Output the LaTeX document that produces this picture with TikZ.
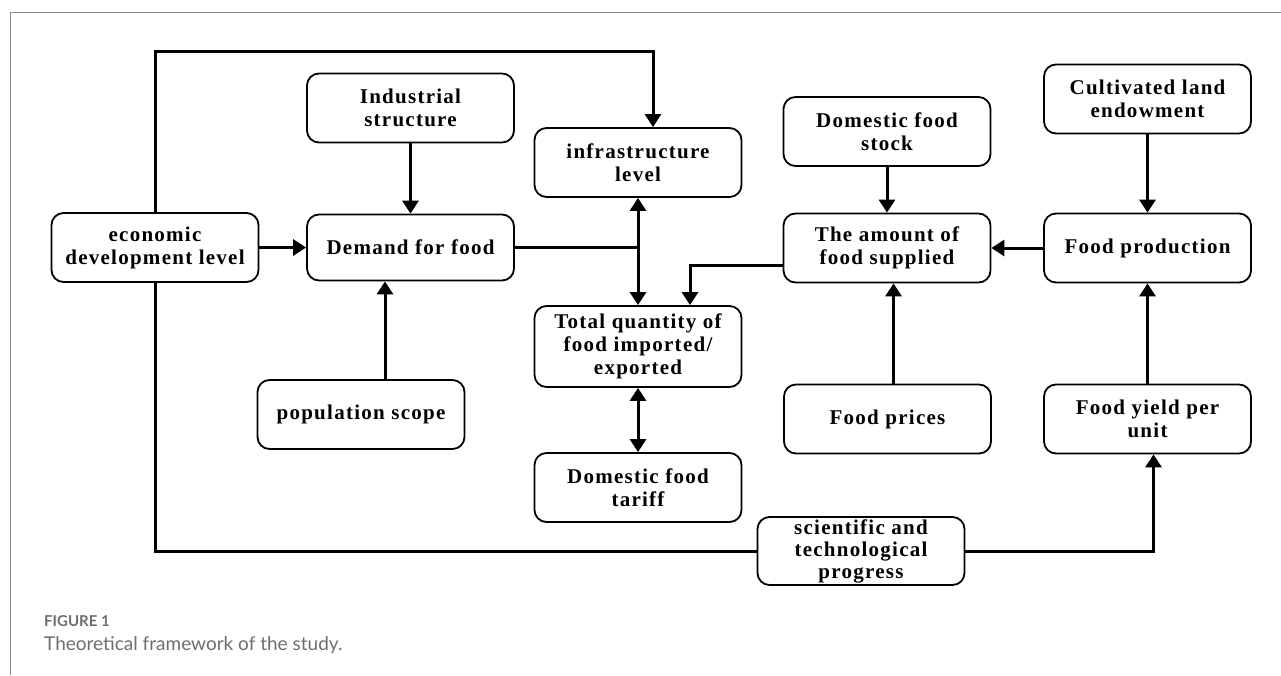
\documentclass[tikz,border=0pt]{standalone}
\usepackage{fontspec}
\setmainfont{Liberation Serif}
\newfontfamily\boxfont[LetterSpace=6]{Liberation Serif}
\newfontfamily\capfont{Lato}
\usetikzlibrary{arrows.meta,positioning,calc}
\definecolor{Ink}{HTML}{000000}
\definecolor{Frame}{HTML}{8A8A8A}
\definecolor{Caption}{HTML}{6D6E71}
\tikzset{
 box/.style={draw=Ink, line width=1.8pt, rounded corners=12pt, fill=white, minimum width=207pt, minimum height=69pt, inner sep=2pt, align=center, font=\boxfont\bfseries\fontsize{21}{23}\selectfont},
 arrow/.style={-{Triangle[length=13pt,width=16pt]}, line width=3pt, draw=Ink},
 dblarrow/.style={{Triangle[length=13pt,width=16pt]}-{Triangle[length=13pt,width=16pt]}, line width=3pt, draw=Ink},
 link/.style={line width=3pt, draw=Ink}
}

\begin{document}
\begin{tikzpicture}[x=1pt,y=-1pt]
\useasboundingbox (0,0) rectangle (1281,675);
\draw[Frame, line width=1pt] (10,675) -- (10,12) -- (1281,12);

% demand side
\node[box] (econ) at (155,247.5) {economic\\development level};
\node[box] (industry) at (410.5,108) {Industrial\\structure};
\node[box, minimum height=66pt] (demand) at (410.5,247.5) {Demand for food};
\node[box] (population) at (361,414.5) {population scope};

% trade
\node[box] (infra) at (638,162.5) {infrastructure\\level};
\node[box, minimum height=81pt] (total) at (638,346.5) {Total quantity of\\food imported/\\exported};
\node[box] (tariff) at (638,487.5) {Domestic food\\tariff};

% supply side
\node[box] (stock) at (887,131.5) {Domestic food\\stock};
\node[box] (supplied) at (887,248) {The amount of\\food supplied};
\node[box] (prices) at (887.5,419) {Food prices};
\node[box] (land) at (1147.5,99) {Cultivated land\\endowment};
\node[box] (production) at (1147.5,248) {Food production};
\node[box] (yield) at (1147.5,419) {Food yield per\\unit};
\node[box, minimum height=68pt, font=\boxfont\bfseries\fontsize{21}{22}\selectfont] (tech) at (861,551) {scientific and\\technological\\progress};

\coordinate (looptop) at (653,51);
\coordinate (loopbottom) at (155,551);

\draw[arrow] (econ.north) |- (looptop) -- (looptop |- infra.north);
\draw[arrow] (econ) -- (demand);
\draw[arrow] (industry) -- (demand);
\draw[arrow] ([xshift=24pt]population.north) -- ([xshift=24pt]population.north |- demand.south);
\draw[link] (demand.east) -- (demand.east -| infra.south);
\draw[dblarrow] (infra) -- (total);
\draw[dblarrow] (total) -- (tariff);
\draw[arrow] ([yshift=-17pt]supplied.west) -| ([xshift=52pt]total.north);
\draw[arrow] (stock) -- (supplied);
\draw[arrow] (land) -- (production);
\draw[arrow] (production) -- (supplied);
\draw[arrow] ([xshift=6pt]prices.north) -- ([xshift=6pt]prices.north |- supplied.south);
\draw[arrow] (yield) -- (production);
\draw[link] (econ.south) -- (loopbottom) -- (tech.west);
\draw[arrow] (tech.east) -| ([xshift=6pt]yield.south);

\node[anchor=base west, inner sep=0, text=Caption, font=\capfont\bfseries\fontsize{15}{17}\selectfont] (figlabel) at (44,626) {FIGURE 1};
\node[anchor=base west, inner sep=0, text=Caption, font=\capfont\fontsize{19}{22}\selectfont] (figtitle) at (44,650) {Theoretical framework of the study.};
\end{tikzpicture}
\end{document}
